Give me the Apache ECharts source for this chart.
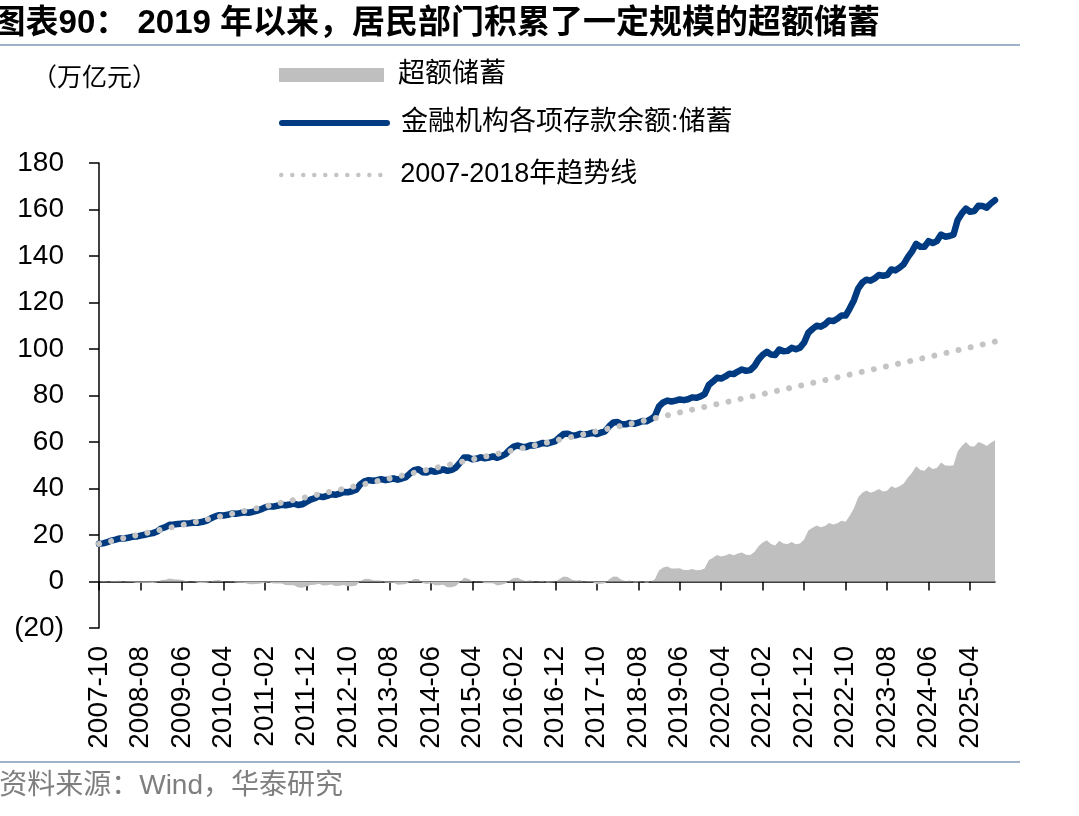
<!DOCTYPE html>
<html>
<head>
<meta charset="utf-8">
<script src="https://cdn.jsdelivr.net/npm/echarts@6/dist/echarts.min.js"></script>
<style>
  html, body { margin: 0; padding: 0; background: #fff; }
  #chart { width: 1079px; height: 816px; }
</style>
</head>
<body>
<div id="chart"></div>
<script>
// 月份：2007-10 ~ 2025-10
const months = [];
for (let y = 2007, m = 10; y < 2025 || (y === 2025 && m <= 10); m++) {
  if (m > 12) { m = 1; y++; }
  months.push(y + '-' + (m < 10 ? '0' + m : m));
}

// 金融机构各项存款余额:储蓄（万亿元）
const deposits = [
  16.2, 16.4, 16.9,
  17.6, 18.0, 18.5, 18.5, 18.8, 19.2, 19.3, 19.7, 20.1, 20.5, 20.8, 21.5,
  22.8, 23.4, 24.4, 24.5, 24.7, 24.9, 24.9, 25.1, 25.4, 25.3, 25.7, 26.2,
  27.2, 28.0, 28.5, 28.4, 28.7, 29.2, 29.1, 29.4, 29.8, 29.6, 29.9, 30.4,
  31.0, 31.8, 32.4, 32.2, 32.6, 33.0, 32.8, 33.1, 33.5, 32.9, 33.2, 34.2,
  35.2, 35.8, 36.6, 36.3, 36.8, 37.5, 37.3, 37.8, 38.5, 38.4, 38.8, 39.5,
  41.8, 43.1, 43.6, 43.3, 43.6, 44.0, 43.6, 43.9, 44.3, 43.8, 44.3, 44.9,
  46.5, 47.9, 48.3, 47.0, 46.9, 47.7, 47.2, 47.6, 48.2, 47.6, 48.0, 49.0,
  51.0, 53.3, 53.3, 52.6, 52.8, 53.4, 53.0, 53.3, 53.8, 53.2, 53.9, 54.8,
  56.6, 58.0, 58.5, 57.9, 57.9, 58.6, 58.5, 59.0, 59.6, 59.3, 59.8, 60.4,
  62.0, 63.4, 63.6, 62.8, 62.9, 63.5, 63.2, 63.5, 64.0, 63.4, 64.0, 64.6,
  66.8, 68.4, 68.6, 67.6, 67.6, 68.2, 67.8, 68.3, 69.0, 68.9, 69.8, 71.2,
  75.3, 77.0, 77.8, 77.4, 77.8, 78.3, 78.0, 78.4, 79.2, 79.0, 79.6, 80.6,
  84.5, 86.0, 87.6, 87.3, 88.2, 89.4, 89.2, 90.3, 91.2, 90.6, 90.9, 92.6,
  95.5, 97.5, 98.8, 97.6, 97.4, 99.8, 99.0, 99.2, 100.5, 99.9, 100.6, 102.8,
  107.0, 108.6, 110.0, 109.6, 110.6, 112.3, 112.0, 113.0, 114.4, 114.4, 117.5, 121.0,
  126.0, 128.5, 129.8, 129.4, 130.4, 131.8, 131.5, 131.8, 134.2, 133.8, 135.0, 136.5,
  139.5, 142.0, 145.2, 144.0, 144.0, 146.4, 145.6, 146.4, 149.2, 148.3, 148.6, 149.2,
  155.5, 158.3, 160.4, 159.0, 159.3, 161.6, 161.5, 160.8, 162.6, 164.0
];

// 超额储蓄（万亿元）
const excess = [
  0.0, -0.2, -0.1,
  0.2, 0.2, 0.3, -0.1, -0.2, -0.2, -0.5, -0.5, -0.5, -0.5, -0.6, -0.3,
  0.6, 0.8, 1.3, 1.0, 0.9, 0.6, 0.2, 0.0, -0.1, -0.6, -0.6, -0.5,
  0.1, 0.5, 0.6, 0.1, 0.0, 0.1, -0.4, -0.5, -0.5, -1.1, -1.2, -1.1,
  -0.9, -0.5, -0.3, -0.9, -0.9, -0.9, -1.5, -1.6, -1.6, -2.6, -2.7, -2.2,
  -1.5, -1.4, -1.0, -1.7, -1.6, -1.3, -1.9, -1.8, -1.5, -2.0, -2.0, -1.7,
  0.2, 1.1, 1.2, 0.5, 0.4, 0.4, -0.4, -0.5, -0.5, -1.4, -1.3, -1.1,
  0.1, 1.1, 1.1, -0.6, -1.1, -0.7, -1.6, -1.6, -1.4, -2.5, -2.5, -1.9,
  -0.3, 1.6, 1.2, 0.1, -0.1, 0.1, -0.7, -0.8, -0.7, -1.7, -1.4, -0.9,
  0.5, 1.5, 1.6, 0.6, 0.2, 0.5, 0.0, 0.1, 0.3, -0.4, -0.3, -0.1,
  1.1, 2.1, 1.9, 0.7, 0.4, 0.6, -0.1, -0.2, -0.2, -1.2, -1.0, -0.8,
  1.0, 2.2, 2.0, 0.6, 0.2, 0.4, -0.4, -0.3, 0.0, -0.5, 0.0, 1.0,
  4.7, 6.0, 6.4, 5.6, 5.6, 5.7, 5.0, 5.0, 5.4, 4.8, 5.0, 5.6,
  9.1, 10.2, 11.4, 10.7, 11.2, 11.9, 11.3, 12.0, 12.5, 11.5, 11.4, 12.7,
  15.2, 16.8, 17.7, 16.1, 15.5, 17.5, 16.3, 16.1, 17.0, 16.0, 16.3, 18.1,
  21.9, 23.1, 24.1, 23.3, 23.9, 25.2, 24.5, 25.1, 26.1, 25.7, 28.4, 31.5,
  36.1, 38.2, 39.1, 38.2, 38.8, 39.8, 38.7, 39.0, 41.0, 40.2, 41.0, 42.1,
  44.7, 46.8, 49.6, 48.0, 47.6, 49.6, 48.4, 48.8, 51.2, 49.9, 49.8, 50.0,
  55.9, 58.3, 60.0, 58.2, 58.1, 60.0, 59.4, 58.3, 59.7, 60.7
];

// 2007-2018年趋势线：在刻度月份读出的值
const trendIdx = [0, 10, 20, 30, 40, 50, 60, 70, 80, 90, 100, 110, 120, 130, 140, 150, 160, 170, 180, 190, 200, 210, 216];
const trendVal = [16.2, 20.3, 24.3, 28.3, 32.3, 36.3, 40.3, 44.3, 48.4, 52.5, 56.5, 60.6, 64.6, 68.6, 72.7, 76.7, 80.6, 84.6, 88.6, 92.6, 96.6, 100.7, 103.2];

const trend = months.map(() => null);
trendIdx.forEach((i, k) => { trend[i] = trendVal[k]; });

const BLUE = '#003a80';
const GREY = '#bfbfbf';
const DOT = '#c4c4c4';
const FONT = '"Liberation Sans", "Noto Sans CJK SC"';
const NOFILL = { color: 'rgba(0,0,0,0)', borderColor: 'rgba(0,0,0,0)', borderWidth: 0 };

const chart = echarts.init(document.getElementById('chart'));

const legendBase = {
  orient: 'vertical',
  left: 279,
  padding: 0,
  itemWidth: 105,
  itemHeight: 14,
  textStyle: { color: '#000', fontSize: 27, fontFamily: FONT, lineHeight: 30, padding: [0, 0, 0, 9] }
};

const option = {
  animation: false,
  backgroundColor: '#fff',
  grid: { left: 99, right: 84, top: 163, bottom: 188 },
  legend: [
    Object.assign({}, legendBase, { top: 60, data: [{ name: '超额储蓄', icon: 'rect', itemStyle: { color: GREY } }] }),
    Object.assign({}, legendBase, { top: 108, data: [{ name: '金融机构各项存款余额:储蓄', itemStyle: NOFILL, lineStyle: { width: 6, color: BLUE, cap: 'round' } }] }),
    Object.assign({}, legendBase, { top: 160, data: [{ name: '2007-2018年趋势线', itemStyle: NOFILL, lineStyle: { width: 4.5, color: DOT, type: [0.01, 11], cap: 'round' } }] })
  ],
  xAxis: [{
    type: 'category',
    data: months,
    boundaryGap: false,
    position: 'bottom',
    axisLine: { onZero: true, lineStyle: { color: '#000', width: 1.5 } },
    axisTick: { interval: 9, length: 9, lineStyle: { color: '#000', width: 1.5 } },
    axisLabel: { show: false },
    splitLine: { show: false }
  }, {
    type: 'category',
    data: months,
    boundaryGap: false,
    position: 'bottom',
    axisLine: { show: false, onZero: false },
    axisTick: { show: false },
    axisLabel: { interval: 9, rotate: 90, margin: 18, fontSize: 28, color: '#000', fontFamily: 'Liberation Sans' },
    splitLine: { show: false }
  }],
  yAxis: {
    type: 'value',
    min: -20,
    max: 180,
    interval: 20,
    axisLine: { show: true, lineStyle: { color: '#000', width: 1.5 } },
    axisTick: { show: true, length: 10, lineStyle: { color: '#000', width: 1.5 } },
    axisLabel: {
      margin: 35,
      fontSize: 28,
      color: '#000',
      fontFamily: 'Liberation Sans',
      formatter: v => v < 0 ? '(' + (-v) + ')' : v
    },
    splitLine: { show: false }
  },
  series: [{
    name: '超额储蓄',
    type: 'line',
    data: excess,
    symbol: 'none',
    itemStyle: { color: GREY },
    lineStyle: { width: 0, color: GREY },
    areaStyle: { color: GREY, opacity: 1 },
    z: 1
  }, {
    name: '金融机构各项存款余额:储蓄',
    type: 'line',
    data: deposits,
    symbol: 'none',
    itemStyle: { color: BLUE },
    lineStyle: { width: 6.5, color: BLUE, cap: 'round', join: 'round' },
    z: 2
  }, {
    name: '2007-2018年趋势线',
    type: 'line',
    data: trend,
    connectNulls: true,
    symbol: 'none',
    itemStyle: { color: DOT },
    lineStyle: { width: 6, color: DOT, type: [0.01, 12.4], cap: 'round' },
    z: 3
  }],
  graphic: [
    { type: 'text', x: 880, y: 24, style: { text: '图表90： 2019 年以来，居民部门积累了一定规模的超额储蓄', font: 'bold 33px ' + FONT, fill: '#000', textAlign: 'right', textVerticalAlign: 'middle' } },
    { type: 'line', shape: { x1: 0, y1: 45, x2: 1020, y2: 45 }, style: { stroke: '#9fb2c9', lineWidth: 2 } },
    { type: 'text', x: 32, y: 76, style: { text: '（万亿元）', font: '25px "Noto Sans CJK SC"', fill: '#000', textVerticalAlign: 'middle' } },
    { type: 'line', shape: { x1: 0, y1: 762, x2: 1020, y2: 762 }, style: { stroke: '#9fb2c9', lineWidth: 2 } },
    { type: 'text', x: 343, y: 786, style: { text: '资料来源：Wind，华泰研究', font: '28px ' + FONT, fill: '#7f7f7f', textAlign: 'right', textVerticalAlign: 'middle' } }
  ]
};

chart.setOption(option);
</script>
</body>
</html>
